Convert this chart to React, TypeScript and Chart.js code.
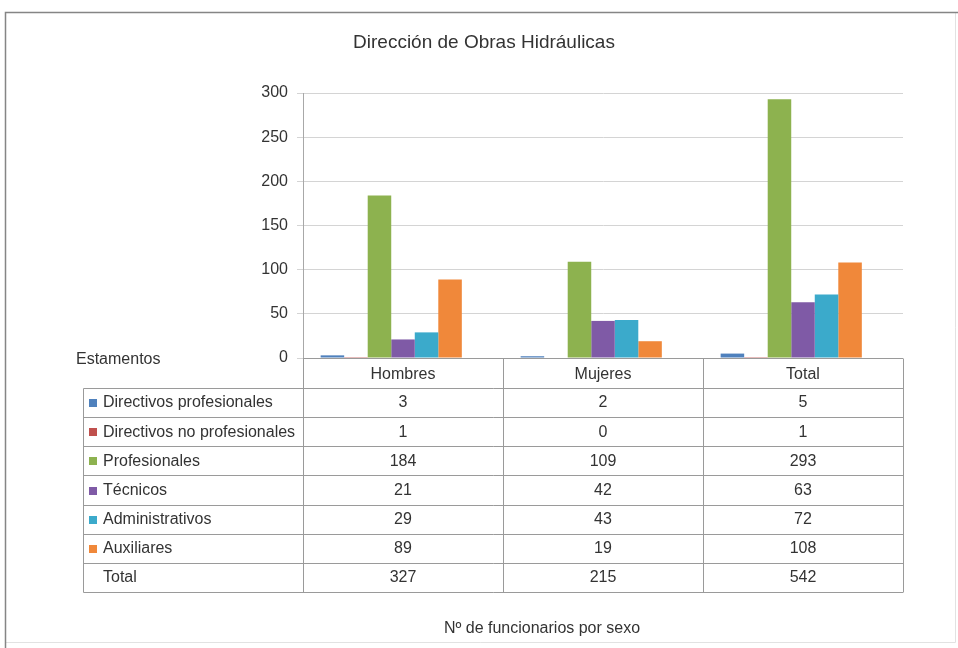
import React, { useEffect, useRef } from 'react';
import { Chart, registerables } from 'chart.js';

Chart.register(...registerables);

const chartTitle = 'Dirección de Obras Hidráulicas';
const axisTitle = 'Nº de funcionarios por sexo';
const tableHeader = 'Estamentos';

const categories = ['Hombres', 'Mujeres', 'Total'];
const seriesNames = [
  'Directivos profesionales',
  'Directivos no profesionales',
  'Profesionales',
  'Técnicos',
  'Administrativos',
  'Auxiliares',
  'Total',
];
const directivosProfesionales = [3, 2, 5];
const directivosNoProfesionales = [1, 0, 1];
const profesionales = [184, 109, 293];
const tecnicos = [21, 42, 63];
const administrativos = [29, 43, 72];
const auxiliares = [89, 19, 108];
const totales = [327, 215, 542];
const yMin = 0;
const yMax = 300;
const yStep = 50;

const seriesValues = [
  directivosProfesionales,
  directivosNoProfesionales,
  profesionales,
  tecnicos,
  administrativos,
  auxiliares,
  totales,
];
const seriesColors = ['#4F81BD', '#C0504D', '#8DB24F', '#7F5AA6', '#3BAACB', '#F0883A', 'rgba(0,0,0,0)'];

const FONT = '"Liberation Sans", Arial, sans-serif';
const TEXT = '#333333';
const LINE = '#9a9a9a';

const tablePlugin = {
  id: 'dataTable',
  beforeDraw(chart: any) {
    const ctx = chart.ctx;
    ctx.save();
    ctx.fillStyle = '#ffffff';
    ctx.fillRect(0, 0, chart.width, chart.height);
    // frame
    ctx.strokeStyle = '#e2e2e2';
    ctx.lineWidth = 1;
    ctx.beginPath();
    ctx.moveTo(955.5, 13);
    ctx.lineTo(955.5, 642.5);
    ctx.lineTo(5, 642.5);
    ctx.stroke();
    ctx.strokeStyle = '#858585';
    ctx.lineWidth = 1.5;
    ctx.beginPath();
    ctx.moveTo(5.5, 648);
    ctx.lineTo(5.5, 12.5);
    ctx.lineTo(958, 12.5);
    ctx.stroke();
    ctx.restore();
  },
  afterDraw(chart: any) {
    const ctx = chart.ctx;
    const xs = chart.scales.x;
    const area = chart.chartArea;
    const n = chart.data.labels.length;
    const colW = (xs.right - xs.left) / n;
    const top0 = Math.round(area.bottom) + 0.5;
    const bodyTop = Math.round(xs.bottom) + 0.5;
    const datasets = chart.data.datasets;
    const rows = datasets.length;
    const rowH = 29.15;
    const tableLeft = 83.5;
    const bottom = bodyTop + rows * rowH;

    ctx.save();
    // title
    ctx.fillStyle = TEXT;
    ctx.font = `19px ${FONT}`;
    ctx.textAlign = 'center';
    ctx.textBaseline = 'middle';
    ctx.fillText(chartTitle, 484, 43);

    // table lines
    ctx.strokeStyle = LINE;
    ctx.lineWidth = 1;
    ctx.beginPath();
    ctx.moveTo(xs.left, top0);
    ctx.lineTo(xs.right, top0);
    for (let r = 0; r <= rows; r++) {
      const y = Math.round(bodyTop + r * rowH - 0.5) + 0.5;
      ctx.moveTo(tableLeft, y);
      ctx.lineTo(xs.right, y);
    }
    for (let c = 0; c <= n; c++) {
      const x = Math.round(xs.left + c * colW) + 0.5;
      ctx.moveTo(x, top0);
      ctx.lineTo(x, Math.round(bottom - 0.5) + 0.5);
    }
    ctx.moveTo(tableLeft, bodyTop);
    ctx.lineTo(tableLeft, Math.round(bottom - 0.5) + 0.5);
    ctx.stroke();

    // header label
    ctx.font = `16px ${FONT}`;
    ctx.fillStyle = TEXT;
    ctx.textAlign = 'left';
    ctx.fillText(tableHeader, 76, 360);

    // rows
    datasets.forEach((ds: any, r: number) => {
      const cy = bodyTop + (r + 0.5) * rowH;
      const color = ds.backgroundColor;
      if (color !== 'rgba(0,0,0,0)') {
        ctx.fillStyle = color;
        ctx.fillRect(89, Math.round(cy) - 4, 8, 8);
      }
      ctx.fillStyle = TEXT;
      ctx.textAlign = 'left';
      ctx.fillText(ds.label, 103, cy);
      ctx.textAlign = 'center';
      ds.data.forEach((v: number, i: number) => {
        ctx.fillText(String(v), xs.getPixelForValue(i), cy);
      });
    });

    // axis title
    ctx.textAlign = 'center';
    ctx.fillText(axisTitle, 542, 629);
    ctx.restore();
  },
};

export default function App() {
  const ref = useRef<HTMLCanvasElement | null>(null);

  useEffect(() => {
    if (!ref.current) return;
    const chart = new Chart(ref.current, {
      type: 'bar',
      data: {
        labels: categories,
        datasets: seriesNames.map((name, i) => ({
          label: name,
          data: seriesValues[i],
          backgroundColor: seriesColors[i],
          borderWidth: 0,
          categoryPercentage: 7 / 8.5,
          barPercentage: 1,
        })),
      },
      options: {
        responsive: false,
        animation: false,
        events: [],
        layout: { padding: { top: 93, right: 55, bottom: 260, left: 0 } },
        plugins: {
          legend: { display: false },
          title: { display: false },
          tooltip: { enabled: false },
        },
        scales: {
          x: {
            grid: { display: false },
            border: { display: false },
            ticks: {
              color: TEXT,
              padding: -1,
              font: { family: FONT, size: 16 },
            },
            afterFit: (s: any) => {
              s.height = 30;
            },
          },
          y: {
            min: yMin,
            max: yMax,
            grid: { color: '#d4d4d4', tickLength: 6 },
            border: { display: true, color: '#a8a8a8' },
            ticks: {
              stepSize: yStep,
              color: TEXT,
              padding: 9,
              font: { family: FONT, size: 16 },
            },
            afterFit: (s: any) => {
              s.width = 303;
            },
          },
        },
      },
      plugins: [tablePlugin],
    });
    return () => chart.destroy();
  }, []);

  return (
    <div style={{ position: 'fixed', left: 0, top: 0, width: 958, height: 648 }}>
      <canvas ref={ref} width={958} height={648} style={{ display: 'block' }} />
    </div>
  );
}
